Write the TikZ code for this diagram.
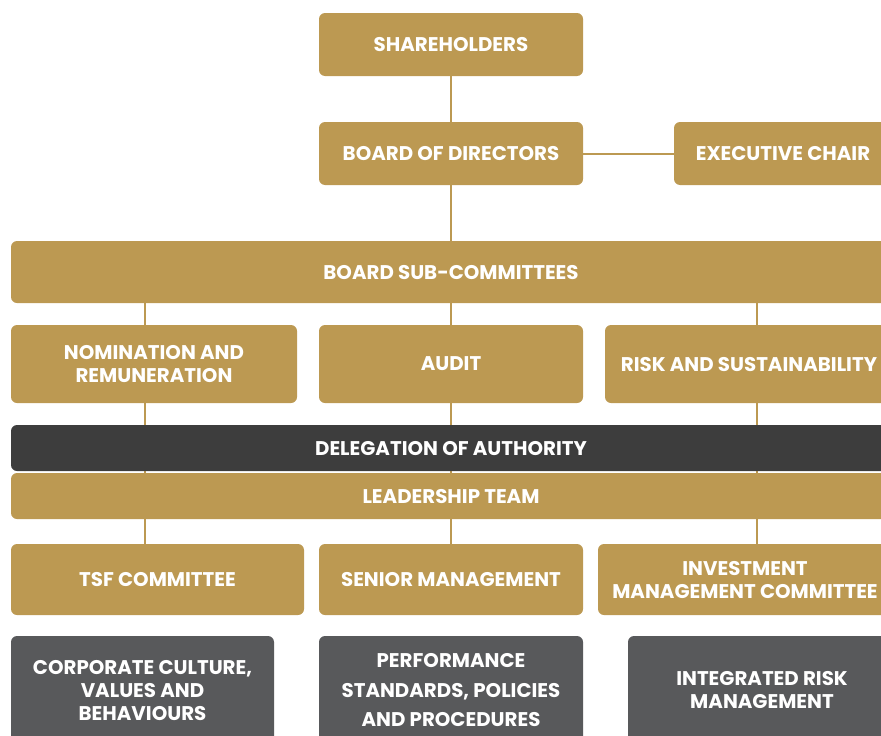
\documentclass[tikz,border=0pt]{standalone}
\usepackage{fontspec}
\setmainfont{Poppins}
\usetikzlibrary{positioning, backgrounds}
\definecolor{tsgold}{RGB}{188,153,82}
\definecolor{tsdark}{RGB}{61,61,61}
\definecolor{tsgrey}{RGB}{88,89,91}
\tikzset{x=1pt, y=-1pt,
         box/.style={rounded corners=6pt, text=white, align=center,
                     inner sep=0pt, text depth=-3pt,
                     font=\bfseries\fontsize{19.8}{23}\selectfont},
         goldbox/.style={box, fill=tsgold},
         darkbox/.style={box, fill=tsdark},
         greybox/.style={box, fill=tsgrey},
         link/.style={draw=tsgold, line width=2pt},
         }

\begin{document}
\begin{tikzpicture}
    \useasboundingbox (0,0) rectangle (881,736);

    % top of the tree
    \node[goldbox, minimum width=264pt, minimum height=63pt] (sh) at (451,44.5) {SHAREHOLDERS};
    \node[goldbox, minimum width=264pt, minimum height=63pt] (bod) at (451,153.5) {BOARD OF DIRECTORS};
    \node[goldbox, minimum width=218pt, minimum height=63pt] (exec) at (783,153.5) {EXECUTIVE CHAIR};
    \node[goldbox, minimum width=880pt, minimum height=62pt] (bsc) at (451,272) {BOARD SUB-COMMITTEES};

    % committees
    \node[goldbox, minimum width=286pt, minimum height=78pt] (nom) at (154,364) {NOMINATION AND\\REMUNERATION};
    \node[goldbox, minimum width=264pt, minimum height=78pt] (aud) at (451,364) {AUDIT};
    \node[goldbox, minimum width=288pt, minimum height=78pt] (risk) at (749,364) {RISK AND SUSTAINABILITY};

    \node[darkbox, minimum width=880pt, minimum height=46pt] (doa) at (451,448) {DELEGATION OF AUTHORITY};
    \node[goldbox, minimum width=880pt, minimum height=46pt] (lead) at (451,496) {LEADERSHIP TEAM};

    \node[goldbox, minimum width=293pt, minimum height=71pt] (tsf) at (157.5,579.5) {TSF COMMITTEE};
    \node[goldbox, minimum width=264pt, minimum height=71pt] (snr) at (451,579.5) {SENIOR MANAGEMENT};
    \node[goldbox, minimum width=294pt, minimum height=71pt] (imc) at (745,579.5) {INVESTMENT\\MANAGEMENT COMMITTEE};

    % pillars
    \node[greybox, minimum width=263pt, minimum height=108pt] (cult) at (142.5,690) {CORPORATE CULTURE,\\VALUES AND\\BEHAVIOURS};
    \node[greybox, minimum width=264pt, minimum height=108pt, font=\bfseries\fontsize{19.8}{29.5}\selectfont] (perf) at (451,690) {PERFORMANCE\\STANDARDS, POLICIES\\AND PROCEDURES};
    \node[greybox, minimum width=268pt, minimum height=108pt] (irm) at (762,690) {INTEGRATED RISK\\MANAGEMENT};

    \coordinate (left) at (145,0);
    \coordinate (right) at (757,0);

    \begin{scope}[on background layer]
        \draw[link] (sh) -- (bod);
        \draw[link] (bod) -- (exec);
        \draw[link] (bod) -- (bsc);
        \draw[link] (left |- bsc.south) -- (left |- tsf.north);
        \draw[link] (bsc) -- (snr);
        \draw[link] (right |- bsc.south) -- (right |- imc.north);
    \end{scope}
\end{tikzpicture}
\end{document}
